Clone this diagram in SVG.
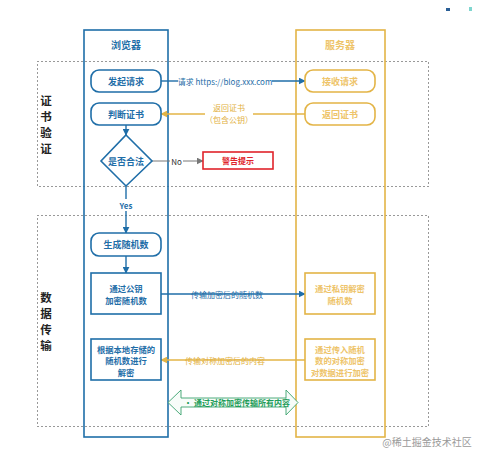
<svg xmlns="http://www.w3.org/2000/svg" width="485" height="459" viewBox="0 0 485 459">
<defs>
<style>
text{font-family:"Noto Sans CJK SC","Noto Sans",sans-serif;font-weight:bold;text-anchor:middle;dominant-baseline:central}
.b{fill:#1f6ea8}
.y{fill:#eec46a}
.yd{fill:#e2b03e}
.bs{fill:#fff;stroke:#1f6ea8;stroke-width:1.6}
.ys{fill:#fff;stroke:#e3b446;stroke-width:1.6}
.t9{font-size:9px}
.t8{font-size:8.3px}
.lab{font-size:11.5px;fill:#222}
.dot{fill:none;stroke:#333;stroke-width:1;stroke-dasharray:1 3}
</style>
<marker id="ab" viewBox="0 0 10 10" refX="9" refY="5" markerWidth="7" markerHeight="7" orient="auto-start-reverse" markerUnits="userSpaceOnUse"><path d="M0,0L10,5L0,10z" fill="#1f6ea8"/></marker>
<marker id="ay" viewBox="0 0 10 10" refX="9" refY="5" markerWidth="7" markerHeight="7" orient="auto-start-reverse" markerUnits="userSpaceOnUse"><path d="M0,0L10,5L0,10z" fill="#e3b446"/></marker>
<marker id="ag" viewBox="0 0 10 10" refX="9" refY="5" markerWidth="7" markerHeight="7" orient="auto" markerUnits="userSpaceOnUse"><path d="M0,0L10,5L0,10z" fill="#777"/></marker>
</defs>
<rect width="485" height="459" fill="#fff"/>
<rect x="446" y="8" width="4" height="3" fill="#2a5f96"/>
<rect x="469" y="7" width="3" height="4" fill="#7fd6cf"/>

<g id="sections">
<rect class="dot" x="37.5" y="61.5" width="391" height="125"/>
<rect class="dot" x="37.5" y="215.5" width="391" height="211"/>
<text class="lab" x="46" y="100">证</text>
<text class="lab" x="46" y="116">书</text>
<text class="lab" x="46" y="132">验</text>
<text class="lab" x="46" y="148">证</text>
<text class="lab" x="46" y="297">数</text>
<text class="lab" x="46" y="313">据</text>
<text class="lab" x="46" y="329">传</text>
<text class="lab" x="46" y="345">输</text>
</g>

<g id="lane-browser">
<rect x="84" y="30" width="84" height="407" fill="none" stroke="#1f6ea8" stroke-width="1.6"/>
<text class="b" x="126" y="44" style="font-size:10px">浏览器</text>
</g>
<g id="lane-server">
<rect x="296" y="30" width="89" height="407" fill="none" stroke="#e3b446" stroke-width="1.6"/>
<text class="y" x="340" y="44" style="font-size:10px">服务器</text>
</g>

<g id="connectors" fill="none">
<line x1="161" y1="81" x2="178" y2="81" stroke="#1f6ea8" stroke-width="1.4"/>
<line x1="272" y1="81" x2="305" y2="81" stroke="#1f6ea8" stroke-width="1.4" marker-end="url(#ab)"/>
<text x="225" y="81" style="font-size:8px;font-weight:normal;fill:#1f6ea8">请求 https://blog.xxx.com</text>
<line x1="305" y1="114" x2="161" y2="114" stroke="#e3b446" stroke-width="1.4" marker-end="url(#ay)"/>
<rect x="205" y="102" width="48" height="22" fill="#fff"/>
<text class="yd" x="229" y="107" style="font-size:8px;font-weight:normal">返回证书</text>
<text class="yd" x="229" y="119" style="font-size:8px;font-weight:normal">（包含公钥）</text>
<line x1="126" y1="125" x2="126" y2="135" stroke="#1f6ea8" stroke-width="1.4" marker-end="url(#ab)"/>
<line x1="152" y1="161" x2="203" y2="161" stroke="#777" stroke-width="1" marker-end="url(#ag)"/>
<rect x="170" y="155" width="13" height="12" fill="#fff"/>
<text x="176.5" y="161" style="font-size:8px;font-weight:normal;fill:#333">No</text>
<line x1="126" y1="186" x2="126" y2="233" stroke="#1f6ea8" stroke-width="1.4" marker-end="url(#ab)"/>
<rect x="116" y="199" width="20" height="12" fill="#fff"/>
<text class="b" x="126" y="205" style="font-size:8px">Yes</text>
<line x1="126" y1="256" x2="126" y2="273" stroke="#1f6ea8" stroke-width="1.4" marker-end="url(#ab)"/>
<line x1="161" y1="294" x2="305" y2="294" stroke="#1f6ea8" stroke-width="1.4" marker-end="url(#ab)"/>
<text class="b" x="227" y="294" style="font-size:8px;font-weight:normal">传输加密后的随机数</text>
<line x1="305" y1="360" x2="161" y2="360" stroke="#e3b446" stroke-width="1.4" marker-end="url(#ay)"/>
<text class="yd" x="225" y="360" style="font-size:8px;font-weight:normal">传输对称加密后的内容</text>
<path d="M168,402.5 L181,390 L181,398 L286,398 L286,390 L298,402.5 L286,415 L286,407 L181,407 L181,415 Z" fill="#f7fcf9" stroke="#3aa36e" stroke-width="0.9"/>
<text x="237" y="402.5" style="font-size:8px;fill:#1f9d5a">• 通过对称加密传输所有内容</text>
</g>

<g id="n-request"><rect class="bs" x="91" y="70" width="70" height="22" rx="8"/><text class="b t9" x="126" y="81">发起请求</text></g>
<g id="n-check"><rect class="bs" x="91" y="103" width="70" height="22" rx="8"/><text class="b t9" x="126" y="114">判断证书</text></g>
<g id="n-valid"><path class="bs" d="M126,135 L152,161 L126,186 L101,161 Z"/><text class="b t9" x="126" y="161">是否合法</text></g>
<g id="n-warn"><rect x="203" y="152" width="70" height="17" fill="#fff" stroke="#e0242b" stroke-width="1.6"/><text x="238" y="160.5" style="font-size:8px;fill:#e0242b">警告提示</text></g>
<g id="n-gen"><rect class="bs" x="91" y="233" width="70" height="23" rx="8"/><text class="b t9" x="126" y="244.5">生成随机数</text></g>
<g id="n-enc"><rect class="bs" x="91" y="273" width="70" height="41"/><text class="b t8" x="126" y="288">通过公钥</text><text class="b t8" x="126" y="300">加密随机数</text></g>
<g id="n-dec"><rect class="bs" x="91" y="339" width="70" height="41"/><text class="b t8" x="126" y="348.5">根据本地存储的</text><text class="b t8" x="126" y="360">随机数进行</text><text class="b t8" x="126" y="371.5">解密</text></g>
<g id="s-recv"><rect class="ys" x="305" y="70" width="70" height="22" rx="8"/><text class="y t9" x="340" y="81">接收请求</text></g>
<g id="s-ret"><rect class="ys" x="305" y="103" width="70" height="22" rx="8"/><text class="y t9" x="340" y="114">返回证书</text></g>
<g id="s-dec"><rect class="ys" x="305" y="273" width="70" height="41"/><text class="y t8" x="340" y="288">通过私钥解密</text><text class="y t8" x="340" y="300">随机数</text></g>
<g id="s-enc"><rect class="ys" x="305" y="339" width="70" height="41"/><text class="y t8" x="340" y="348.5">通过传入随机</text><text class="y t8" x="340" y="360">数的对称加密</text><text class="y t8" x="340" y="371.5">对数据进行加密</text></g>

<text x="427" y="441" style="font-size:10px;font-weight:normal;fill:#9a9a9a">@稀土掘金技术社区</text>
</svg>
